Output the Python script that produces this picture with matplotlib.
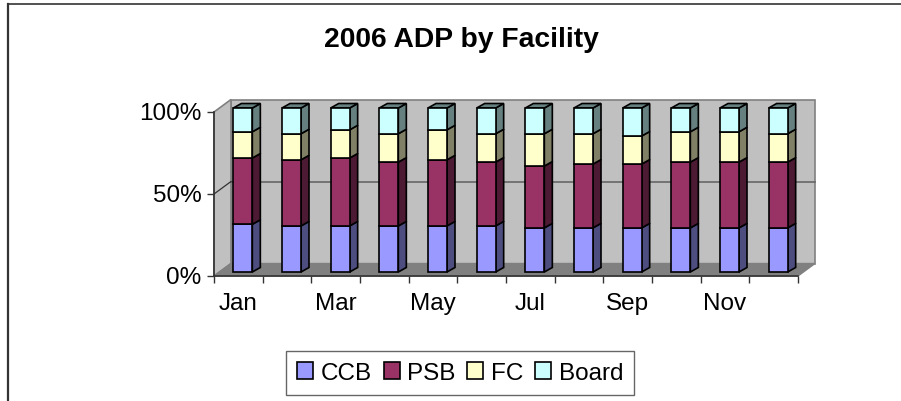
import numpy as np
import matplotlib
matplotlib.use("Agg")
import matplotlib.pyplot as plt
from matplotlib.patches import Polygon, Patch
from matplotlib.lines import Line2D
from matplotlib.transforms import ScaledTranslation

plt.rcParams['font.family'] = ['Liberation Sans', 'DejaVu Sans']

months = ['Jan', 'Feb', 'Mar', 'Apr', 'May', 'Jun', 'Jul', 'Aug', 'Sep', 'Oct', 'Nov', 'Dec']
shown_months = ['Jan', '', 'Mar', '', 'May', '', 'Jul', '', 'Sep', '', 'Nov', '']
series_names = ['CCB', 'PSB', 'FC', 'Board']
ccb = [29.1, 28.1, 28.1, 28.1, 28.1, 28.1, 26.9, 26.9, 26.9, 26.9, 26.9, 26.9]
psb = [40.4, 40.3, 41.4, 38.9, 40.3, 38.9, 37.7, 38.9, 38.9, 40.1, 40.1, 40.1]
fc = [16.0, 15.9, 17.2, 17.3, 18.3, 17.3, 19.7, 18.5, 17.1, 18.5, 18.5, 17.3]
board = [14.5, 15.7, 13.3, 15.7, 13.3, 15.7, 15.7, 15.7, 17.1, 14.5, 14.5, 15.7]
yticks = [0, 50, 100]

front = ['#9999FF', '#993366', '#FFFFCC', '#CCFFFF']
side = ['#4D4D80', '#4D1A33', '#808066', '#668080']
top = '#668080'

W, H = 901, 402
fig = plt.figure(figsize=(W / 100, H / 100), dpi=100)
ax = fig.add_axes([214 / W, 1 - 277 / H, 584 / W, 164 / H])
ax.set_xlim(0, 12)
ax.set_ylim(0, 100)

# pixel -> data
px = 12 / 584
py = 100 / 164
dx, dy = 17 * px, 12.5 * py

# walls and floor
ax.add_patch(Polygon([(dx, dy), (12 + dx, dy), (12 + dx, 100 + dy), (dx, 100 + dy)],
                     fc='#C0C0C0', ec='#808080', lw=1.2, zorder=1, clip_on=False))
ax.add_patch(Polygon([(0, 0), (dx, dy), (dx, 100 + dy), (0, 100)],
                     fc='#C0C0C0', ec='#808080', lw=1.2, zorder=1, clip_on=False))
ax.add_patch(Polygon([(0, 0), (12, 0), (12 + dx, dy), (dx, dy)],
                     fc='#808080', ec='#808080', lw=1.0, zorder=2, clip_on=False))
ax.plot([dx, 12 + dx], [50 + dy, 50 + dy], color='#666666', lw=1.2, zorder=2, clip_on=False)
ax.plot([0, dx], [50, 50 + dy], color='#333333', lw=0.9, zorder=2, clip_on=False)

# bars, with fake depth
bar_w = 19 * px
off_x, off_y = 4.5 * px, 4 * py
bar_dx, bar_dy = 8 * px, 4.5 * py
series = np.array([ccb, psb, fc, board])
x = np.arange(len(months)) + 0.5 + off_x
bottom = np.zeros(len(months))
for i, vals in enumerate(series):
    ax.bar(x, vals, bar_w, bottom=bottom + off_y, color=front[i], edgecolor='black',
           linewidth=1.2, zorder=5, clip_on=False)
    for xi, b, v in zip(x, bottom, vals):
        xr = xi + bar_w / 2
        y0 = b + off_y
        ax.add_patch(Polygon([(xr, y0), (xr + bar_dx, y0 + bar_dy),
                              (xr + bar_dx, y0 + v + bar_dy), (xr, y0 + v)],
                             fc=side[i], ec='black', lw=1.2, zorder=4, clip_on=False))
    bottom = bottom + vals
for xi, t in zip(x, bottom):
    xl = xi - bar_w / 2
    xr = xi + bar_w / 2
    y1 = t + off_y
    ax.add_patch(Polygon([(xl, y1), (xr, y1), (xr + bar_dx, y1 + bar_dy), (xl + bar_dx, y1 + bar_dy)],
                         fc=top, ec='black', lw=1.2, zorder=4, clip_on=False))

# axes
for s in ['top', 'right']:
    ax.spines[s].set_visible(False)
for s in ['left', 'bottom']:
    ax.spines[s].set_color('#333333')
    ax.spines[s].set_linewidth(1.2)
    ax.spines[s].set_zorder(3)
ax.patch.set_visible(False)
ax.set_yticks(yticks)
ax.set_yticklabels(['%d%%' % v for v in yticks], fontsize=17.5)
ax.tick_params(axis='y', length=5, width=1.0, color='#333333', pad=4)
# labels sit a little above their ticks in the original
for lab in ax.get_yticklabels():
    lab.set_transform(lab.get_transform() + ScaledTranslation(0, 1.5 / 100, fig.dpi_scale_trans))
ax.set_xticks(np.arange(13))
ax.set_xticklabels([])
ax.tick_params(axis='x', which='major', length=5, width=1.0, color='#333333')
ax.set_xticks(np.arange(12) + 0.5, minor=True)
ax.set_xticklabels(shown_months, minor=True, fontsize=17.5)
ax.tick_params(axis='x', which='minor', length=0, pad=11.5)

fig.text(461.5 / W, 1 - 40 / H, '2006 ADP by Facility', fontsize=20.3, fontweight='bold',
         ha='center', va='center')

# outer frame, cut off by the picture on the right and below
fig.add_artist(Line2D([7.5 / W, 1], [1 - 5 / H, 1 - 5 / H], color='#333333', lw=1.2))
fig.add_artist(Line2D([7.5 / W, 7.5 / W], [1 - 5 / H, 0], color='#333333', lw=1.6))

handles = [Patch(facecolor=c, edgecolor='black', linewidth=1.2, label=n) for c, n in zip(front, series_names)]
fig.legend(handles=handles, loc='center', bbox_to_anchor=(460 / W, 1 - 374 / H), ncol=4,
           fontsize=17.5, frameon=True, fancybox=False, edgecolor='#666666', framealpha=1,
           handlelength=0.66, handleheight=0.66, handletextpad=0.3, columnspacing=0.5,
           borderpad=0.45, borderaxespad=0)

fig.savefig('out.png', dpi=100)
plt.close(fig)
